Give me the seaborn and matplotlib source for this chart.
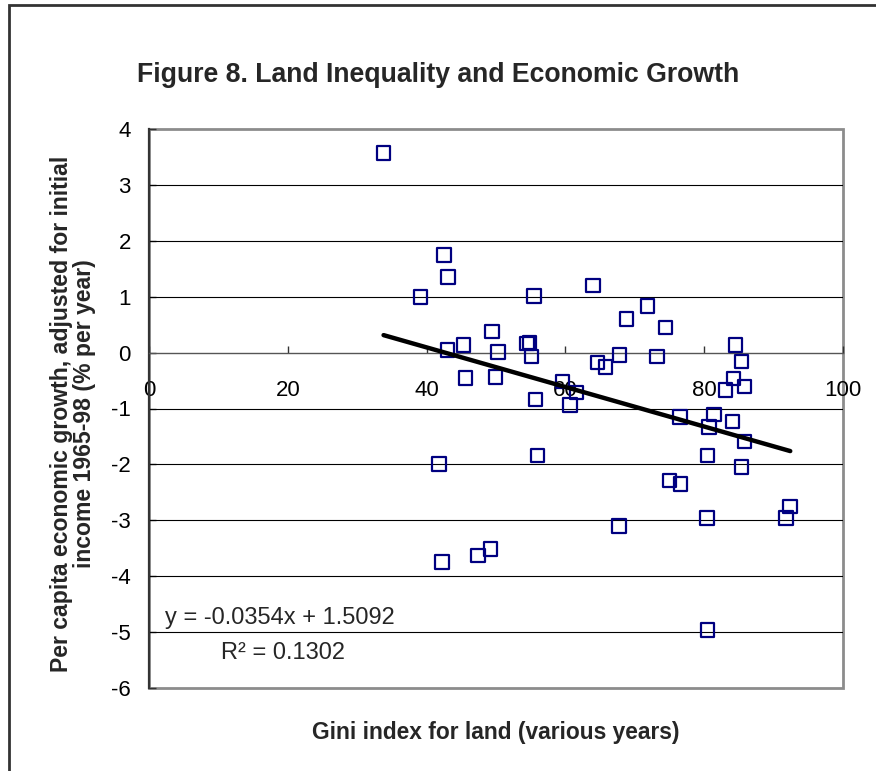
import matplotlib
matplotlib.use("Agg")
import matplotlib.pyplot as plt
import seaborn as sns
import numpy as np
import pandas as pd
from matplotlib.patches import Rectangle

# ---- data ----
gini = [33.8, 42.5, 43.1, 39.1, 49.4, 45.3, 43.0, 50.3, 45.6, 49.9,
        55.5, 64.0, 71.8, 68.8, 74.4, 54.5, 54.8, 55.1, 84.5, 73.2,
        67.8, 64.6, 65.8, 85.4, 59.6, 61.6, 60.7, 55.7, 84.2, 83.1,
        85.8, 76.5, 81.4, 80.7, 84.1, 85.8, 56.0, 80.5, 85.4, 75.0,
        76.6, 92.4, 91.8, 80.4, 67.7, 49.2, 47.4, 42.2, 80.5, 41.8]
growth = [3.57, 1.75, 1.35, 0.99, 0.38, 0.14, 0.05, 0.01, -0.45, -0.44,
          1.01, 1.20, 0.83, 0.60, 0.45, 0.16, 0.18, -0.07, 0.14, -0.07,
          -0.04, -0.18, -0.26, -0.16, -0.52, -0.71, -0.94, -0.84, -0.46, -0.67,
          -0.61, -1.15, -1.11, -1.33, -1.23, -1.59, -1.84, -1.84, -2.05, -2.29,
          -2.35, -2.75, -2.96, -2.96, -3.10, -3.51, -3.63, -3.75, -4.96, -1.99]
slope = -0.0354
intercept = 1.5092
r_squared = 0.1302
x_ticks = [0, 20, 40, 60, 80, 100]
y_ticks = [4, 3, 2, 1, 0, -1, -2, -3, -4, -5, -6]

title = "Figure 8. Land Inequality and Economic Growth"
xlabel = "Gini index for land (various years)"
ylabel = "Per capita economic growth, adjusted for initial\nincome 1965-98 (% per year)"

sns.set_theme(style="white")
plt.rcParams['font.family'] = ['Liberation Sans', 'DejaVu Sans']
plt.rcParams['axes.unicode_minus'] = False

df = pd.DataFrame({"gini": gini, "growth": growth})

fig = plt.figure(figsize=(8.76, 7.71), dpi=100)
ax = fig.add_axes([149 / 876, 1 - 688 / 771, (843 - 149) / 876, (688 - 129) / 771])

ax.set_xlim(0, 100)
ax.set_ylim(-6, 4)
ax.set_yticks(y_ticks)
ax.set_xticks(x_ticks)
for yv in y_ticks:
    if yv not in (4, -6, 0):
        ax.axhline(yv, color="black", lw=0.8, zorder=1)

sns.scatterplot(data=df, x="gini", y="growth", marker="s", s=95,
                facecolors="none", edgecolor="#000080", linewidth=1.6,
                ax=ax, zorder=3, legend=False)

line_x = np.array([min(gini), max(gini)])
line_df = pd.DataFrame({"x": line_x, "y": slope * line_x + intercept})
sns.lineplot(data=line_df, x="x", y="y", color="black", lw=3.2, ax=ax,
             zorder=4, legend=False)

ax.set_xlabel("")
ax.set_ylabel("")

# spines
for s in ["top", "right"]:
    ax.spines[s].set_visible(False)
ax.spines["bottom"].set_position(("data", 0))
ax.spines["bottom"].set_color("#555555")
ax.spines["bottom"].set_linewidth(1.0)
ax.spines["left"].set_color("#333333")
ax.spines["left"].set_linewidth(1.6)
ax.add_patch(Rectangle((0, 0), 1, 1, transform=ax.transAxes, fill=False,
                       edgecolor="#8c8c8c", lw=2.0, zorder=0, clip_on=False))

ax.tick_params(axis="x", direction="in", length=5, width=1, color="#333333",
               pad=20, labelsize=16, bottom=True)
ax.tick_params(axis="y", direction="in", length=5, width=1, color="#333333",
               pad=13, labelsize=16, left=True)
for lab in ax.get_xticklabels() + ax.get_yticklabels():
    lab.set_color("black")

ax.text(2.3, -4.74, f"y = {slope}x + {intercept}", fontsize=17,
        ha="left", va="center", zorder=5)
ax.text(19.3, -5.38, f"R² = {r_squared}", fontsize=17,
        ha="center", va="center", zorder=5)

fig.text(438 / 876, 1 - 75 / 771, title, fontsize=19.2, fontweight="bold",
         ha="center", va="center")
fig.text(496 / 876, 1 - 733 / 771, xlabel, fontsize=16.4, fontweight="bold",
         ha="center", va="center")
fig.text(73 / 876, 1 - 414 / 771, ylabel, fontsize=16.6, fontweight="bold",
         ha="center", va="center", rotation=90, multialignment="center",
         linespacing=0.97)

# outer chart border (top & left visible)
fig.patches.append(Rectangle((9 / 876, -0.1), 1.2, 1 - 5 / 771 + 0.1,
                             transform=fig.transFigure, fill=False,
                             edgecolor="#333333", lw=2.0))

fig.savefig("out.png", dpi=100)
